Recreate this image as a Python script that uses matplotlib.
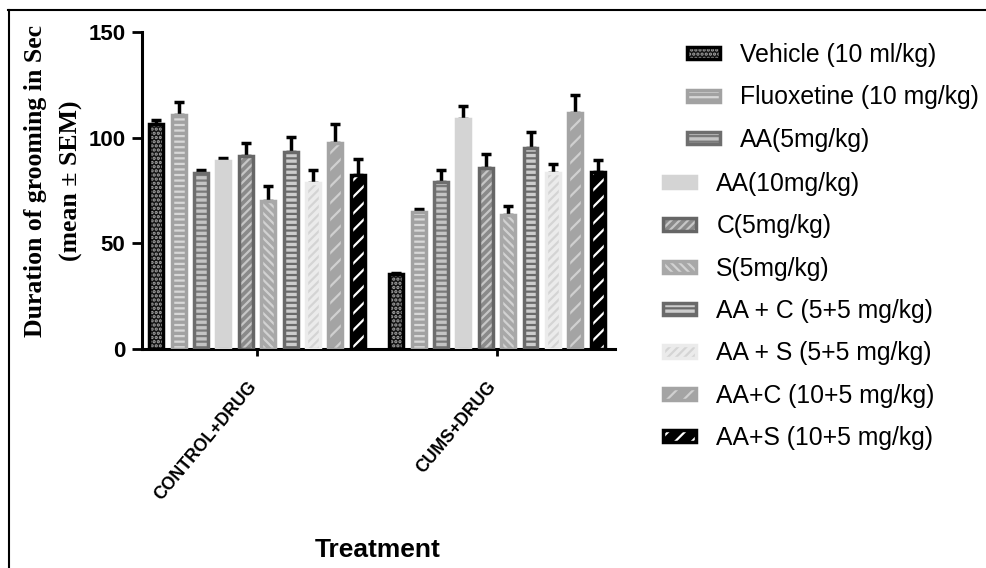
import numpy as np
import matplotlib
matplotlib.use("Agg")
import matplotlib.pyplot as plt
from matplotlib.lines import Line2D
from matplotlib.legend_handler import HandlerTuple

# ---------------- data ----------------
groups = ["CONTROL+DRUG", "CUMS+DRUG"]
labels = ["Vehicle (10 ml/kg)", "Fluoxetine (10 mg/kg)", "AA(5mg/kg)", "AA(10mg/kg)",
          "C(5mg/kg)", "S(5mg/kg)", "AA + C (5+5 mg/kg)", "AA + S (5+5 mg/kg)",
          "AA+C (10+5 mg/kg)", "AA+S (10+5 mg/kg)"]
control_mean = [106.3, 110.7, 83.1, 89.1, 91.3, 69.9, 93.1, 78.4, 97.3, 82.3]
control_sem = [1.9, 6.3, 1.6, 1.4, 6.2, 7.0, 7.2, 6.1, 9.3, 7.4]
cums_mean = [35.3, 65.0, 79.2, 108.8, 85.8, 63.4, 95.0, 83.1, 111.5, 83.9]
cums_sem = [0.6, 1.1, 5.3, 6.2, 6.6, 4.2, 7.7, 4.3, 8.7, 5.4]

# face, hatch colour, edge colour, hatch pattern
styles = [
    ("#141414", "#a8a8a8", "#000000", "...."),
    ("#a2a2a2", "#d8d8d8", "#a2a2a2", "---"),
    ("#c4c4c4", "#7a7a7a", "#6e6e6e", "---"),
    ("#d4d4d4", "#d4d4d4", "#d4d4d4", ""),
    ("#8a8a8a", "#c6c6c6", "#666666", "////"),
    ("#a8a8a8", "#d2d2d2", "#a8a8a8", "\\\\\\\\"),
    ("#cdcdcd", "#6a6a6a", "#6a6a6a", "---"),
    ("#ebebeb", "#d4d4d4", "#ebebeb", "////"),
    ("#a4a4a4", "#d0d0d0", "#a4a4a4", "//"),
    ("#000000", "#ffffff", "#000000", "//"),
]

plt.rcParams["hatch.linewidth"] = 1.6

fig = plt.figure(figsize=(9.87, 5.68), dpi=100)
ax = fig.add_axes([0.1439, 0.3856, 0.4792, 0.5581])

x = np.arange(len(groups))
pitch = 0.0933
width = 0.058
handles = []
for i, lab in enumerate(labels):
    face, hcol, edge, hatch = styles[i]
    pos = x + (i - 4.5) * pitch
    vals = [control_mean[i], cums_mean[i]]
    errs = [control_sem[i], cums_sem[i]]
    b1 = ax.bar(pos, vals, width, color=face, edgecolor=hcol, hatch=hatch,
                linewidth=0, zorder=2)
    b2 = ax.bar(pos, vals, width, facecolor="none", edgecolor=edge, linewidth=2.5,
                zorder=3)
    ax.errorbar(pos, vals, yerr=[np.zeros(2), errs], fmt="none", ecolor="black",
                elinewidth=2.5, capsize=3.5, capthick=2.5, zorder=1)
    handles.append((b1, b2))

ax.set_ylim(0, 150)
ax.set_xlim(-0.479, 1.492)
ax.set_yticks([0, 50, 100, 150])
ax.set_xticks(x)
ax.set_xticklabels(groups, rotation=50, ha="right", va="baseline",
                   rotation_mode="anchor", fontsize=12.7, fontweight="bold",
                   family="Liberation Sans")
for t in ax.get_yticklabels():
    t.set_fontsize(16)
    t.set_fontweight("bold")
    t.set_family("Liberation Sans")
ax.tick_params(axis="y", length=7, width=2, pad=5)
ax.tick_params(axis="x", length=5, width=2, pad=22)
for s in ["top", "right"]:
    ax.spines[s].set_visible(False)
for s in ["left", "bottom"]:
    ax.spines[s].set_linewidth(2.2)

# y label in two lines, serif bold
fig.text(0.036, 0.681, "Duration of grooming in Sec", rotation=90, ha="center",
         va="center", fontsize=18.5, fontweight="bold", family="Liberation Serif")
fig.text(0.072, 0.681, "(mean \u00b1 SEM)", rotation=90, ha="center",
         va="center", fontsize=18.5, fontweight="bold", family="Liberation Serif")
fig.text(0.383, 0.031, "Treatment", ha="center", va="center", fontsize=19,
         fontweight="bold", family="Liberation Sans")

# legend in two blocks as in the original
leg_kw = dict(handler_map={tuple: HandlerTuple(ndivide=1)}, frameon=False,
              loc="upper left", borderpad=0, borderaxespad=0, handlelength=1.34,
              handleheight=0.38, handletextpad=0.81, labelspacing=0.74,
              prop={"family": "Liberation Sans", "size": 17.8})
leg1 = fig.legend(handles[:3], labels[:3], bbox_to_anchor=(0.696, 0.924), **leg_kw)
leg2 = fig.legend(handles[3:], labels[3:], bbox_to_anchor=(0.672, 0.697), **leg_kw)

# frame lines (top and left) of the cropped image
fig.add_artist(Line2D([0.008, 1.0], [0.982, 0.982], color="black", lw=1.5,
                      transform=fig.transFigure))
fig.add_artist(Line2D([0.009, 0.009], [0.0, 0.982], color="black", lw=1.5,
                      transform=fig.transFigure))

fig.savefig("out.png", dpi=100)
